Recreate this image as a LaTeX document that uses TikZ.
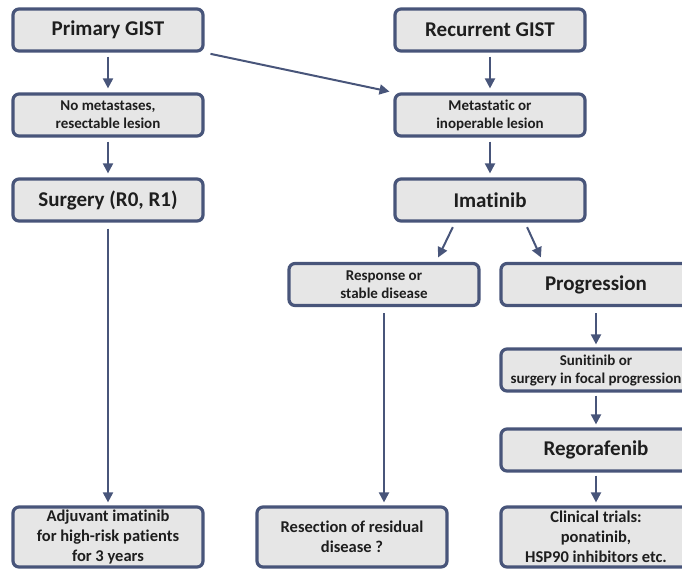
\documentclass[tikz,border=0pt]{standalone}
\usepackage{fontspec}
\setmainfont{Carlito}[Ligatures=NoCommon]
\usepackage{xcolor}
\usepackage{tikz}
\usetikzlibrary{arrows.meta}
\definecolor{gistblue}{HTML}{48557A}
\definecolor{gistgrey}{HTML}{E6E6E6}
\definecolor{gisttext}{HTML}{1E1E1E}

\tikzset{
  gbox/.style={draw=gistblue,fill=gistgrey,line width=3.2pt,rounded corners=6pt,
    inner sep=0pt,align=center,text=gisttext,font=\bfseries},
  big/.style={gbox,minimum width=190pt,minimum height=42pt,font=\bfseries\fontsize{21}{24}\selectfont},
  small/.style={gbox,minimum width=190pt,minimum height=42pt,font=\bfseries\fontsize{15}{18}\selectfont},
  tall/.style={gbox,minimum width=190pt,minimum height=60pt,font=\bfseries\fontsize{16.5}{20}\selectfont},
  arr/.style={draw=gistblue,line width=2pt,-{Triangle[length=10pt,width=10pt]}}
}

\begin{document}
\begin{tikzpicture}[x=1pt,y=-1pt]
  \clip (0,0) rectangle (682,571);
  % left column
  \node[big]   (prim)  at (108,30)  {Primary GIST};
  \node[small] (nomet) at (108,115) {No metastases,\\resectable lesion};
  \node[big]   (surg)  at (108,200) {Surgery (R0, R1)};
  \node[tall]  (adj)   at (108,537) {Adjuvant imatinib\\for high-risk patients\\for 3 years};
  % middle column
  \node[big]   (recur) at (490,30)  {Recurrent GIST};
  \node[small] (metas) at (490,115) {Metastatic or\\inoperable lesion};
  \node[big]   (imat)  at (490,200) {Imatinib};
  \node[small] (resp)  at (384,284.5) {Response or\\stable disease};
  \node[tall]  (resec) at (352,537) {Resection of residual\\disease ?};
  % right column
  \node[big]   (prog)  at (596,284.5) {Progression};
  \node[small] (suni)  at (596,370) {Sunitinib or\\surgery in focal progression};
  \node[big]   (rego)  at (596,450) {Regorafenib};
  \node[tall]  (clin)  at (596,537) {Clinical trials:\\ponatinib,\\HSP90 inhibitors etc.};

  \draw[arr,shorten <=4pt,shorten >=4pt] (prim) -- (nomet);
  \draw[arr,shorten <=4pt,shorten >=4pt] (nomet) -- (surg);
  \draw[arr,shorten <=6pt,shorten >=3pt] (surg) -- (adj);
  \draw[arr,shorten <=6pt,shorten >=4pt] (prim.south east) -- (metas.north west);
  \draw[arr,shorten <=4pt,shorten >=4pt] (recur) -- (metas);
  \draw[arr,shorten <=4pt,shorten >=4pt] (metas) -- (imat);
  \draw[arr,shorten <=5pt,shorten >=5pt] ([xshift=-35pt]imat.south) -- ([xshift=52pt]resp.north);
  \draw[arr,shorten <=5pt,shorten >=5pt] ([xshift=35pt]imat.south) -- ([xshift=-53pt]prog.north);
  \draw[arr,shorten <=6pt,shorten >=3pt] (resp.south) -- (resp.south |- resec.north);
  \draw[arr,shorten <=6pt,shorten >=3pt] (prog) -- (suni);
  \draw[arr,shorten <=3pt,shorten >=3pt] (suni) -- (rego);
  \draw[arr,shorten <=3pt,shorten >=3pt] (rego) -- (clin);
\end{tikzpicture}
\end{document}
